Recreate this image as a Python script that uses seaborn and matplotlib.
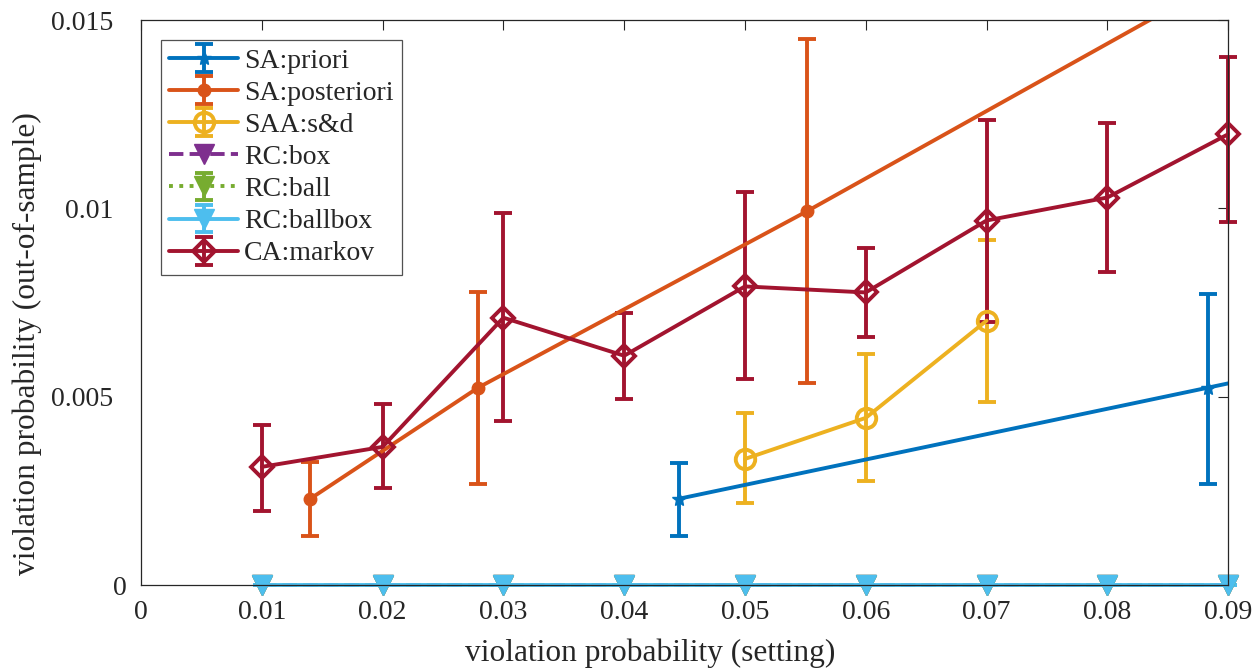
import numpy as np
import matplotlib
matplotlib.use("Agg")
import matplotlib.pyplot as plt
import matplotlib.transforms as mtrans
import seaborn as sns

# ---------------- data ----------------
labels = ["SA:priori", "SA:posteriori", "SAA:s&d", "RC:box", "RC:ball", "RC:ballbox", "CA:markov"]

grid_x = [0.01, 0.02, 0.03, 0.04, 0.05, 0.06, 0.07, 0.08, 0.09]

priori_x = [0.0445, 0.0883, 0.135]
priori_y = [0.00229, 0.00524, 0.0084]
priori_lo = [0.0013, 0.00269, 0.0060]
priori_hi = [0.00324, 0.00774, 0.0110]

post_x = [0.0140, 0.0279, 0.0551, 0.112]
post_y = [0.00229, 0.00524, 0.00992, 0.0201]
post_lo = [0.0013, 0.00269, 0.00537, 0.0160]
post_hi = [0.00327, 0.00777, 0.0145, 0.0240]

saa_x = [0.05, 0.06, 0.07]
saa_y = [0.00335, 0.00444, 0.00702]
saa_lo = [0.00218, 0.00277, 0.00487]
saa_hi = [0.00457, 0.00614, 0.00915]

rc_y = [0, 0, 0, 0, 0, 0, 0, 0, 0]

ca_y = [0.00314, 0.00367, 0.00710, 0.00609, 0.00793, 0.00777, 0.00968, 0.01029, 0.01197]
ca_lo = [0.00197, 0.00258, 0.00436, 0.00495, 0.00548, 0.00660, 0.00699, 0.00832, 0.00965]
ca_hi = [0.00426, 0.00481, 0.00987, 0.00723, 0.01043, 0.00894, 0.01234, 0.01226, 0.01402]

x_ticks = [0, 0.01, 0.02, 0.03, 0.04, 0.05, 0.06, 0.07, 0.08, 0.09]
x_ticklabels = ["0", "0.01", "0.02", "0.03", "0.04", "0.05", "0.06", "0.07", "0.08", "0.09"]
y_ticks = [0, 0.005, 0.01, 0.015]
y_ticklabels = ["0", "0.005", "0.01", "0.015"]

# ---------------- style ----------------
sns.set_theme(style="white")
plt.rcParams["font.family"] = ["Liberation Serif", "DejaVu Serif"]

colors = sns.color_palette(["#0072BD", "#D95319", "#EDB120", "#7E2F8E",
                            "#77AC30", "#4DBEEE", "#A2142F"])

fig = plt.figure(figsize=(12.57, 6.71), dpi=100)
ax = fig.add_axes([0.1122, 0.128, 0.977 - 0.1122, 0.970 - 0.128])

lw = 2.8
cap = 6.5
fs_tick = 20
fs_label = 22.6
fs_leg = 20
txt = "#262626"


def err(y, lo, hi):
    y = np.asarray(y); lo = np.asarray(lo); hi = np.asarray(hi)
    return np.vstack([y - lo, hi - y])


h = []
h.append(ax.errorbar(priori_x, priori_y, yerr=err(priori_y, priori_lo, priori_hi),
                     color=colors[0], lw=lw, marker="*", ms=10, capsize=cap, capthick=lw,
                     label=labels[0]))
h.append(ax.errorbar(post_x, post_y, yerr=err(post_y, post_lo, post_hi),
                     color=colors[1], lw=lw, marker="o", ms=9, capsize=cap, capthick=lw,
                     label=labels[1]))
h.append(ax.errorbar(saa_x, saa_y, yerr=err(saa_y, saa_lo, saa_hi),
                     color=colors[2], lw=lw, marker="o", ms=14, mfc="none", mew=lw,
                     capsize=cap, capthick=lw, label=labels[2]))
zero = np.zeros(len(grid_x))
h.append(ax.plot(grid_x, rc_y, color=colors[3], lw=lw, ls="--",
                 marker="v", ms=14, label=labels[3], clip_on=False)[0])
h.append(ax.errorbar(grid_x, rc_y, yerr=zero, color=colors[4], lw=lw, ls=":",
                     marker="v", ms=14, capsize=cap, capthick=lw, label=labels[4],
                     clip_on=False))
h.append(ax.errorbar(grid_x, rc_y, yerr=zero, color=colors[5], lw=lw, ls="-",
                     marker="v", ms=14, capsize=cap, capthick=lw, label=labels[5],
                     clip_on=False))
h.append(ax.errorbar(grid_x, ca_y, yerr=err(ca_y, ca_lo, ca_hi),
                     color=colors[6], lw=lw, marker="D", ms=11, mfc="none", mew=lw,
                     capsize=cap, capthick=lw, label=labels[6], clip_on=False))

ax.set_xlim(0, 0.09)
ax.set_ylim(0, 0.015)
ax.set_xticks(x_ticks)
ax.set_xticklabels(x_ticklabels)
ax.set_yticks(y_ticks)
ax.set_yticklabels(y_ticklabels)
ax.tick_params(direction="in", length=7, width=0.8, top=True, right=True,
               labelsize=fs_tick, colors=txt)
ax.tick_params(axis="x", pad=11)
ax.tick_params(axis="y", pad=20)
# MATLAB places the "0" y label closer to the axis
ylabs = ax.get_yticklabels()
ylabs[0].set_transform(ylabs[0].get_transform() +
                       mtrans.ScaledTranslation(13 / 100, 0, fig.dpi_scale_trans))
for s in ax.spines.values():
    s.set_visible(True)
    s.set_color(txt)
    s.set_linewidth(0.9)

ax.set_xlabel("violation probability (setting)", fontsize=fs_label, color=txt)
ax.set_ylabel("violation probability (out-of-sample)", fontsize=fs_label, color=txt)
ax.xaxis.set_label_coords(0.468, -0.094)
ax.yaxis.set_label_coords(-0.091, 0.427)

leg = ax.legend(handles=h, labels=labels, loc="upper left", bbox_to_anchor=(0.018, 0.965),
                fontsize=fs_leg, frameon=True, fancybox=False, edgecolor=txt,
                handlelength=2.5, handletextpad=0.2, labelspacing=0.24, borderpad=0.3,
                borderaxespad=0.0)
leg.get_frame().set_linewidth(0.9)

fig.savefig("out.png", dpi=100, facecolor="white")
